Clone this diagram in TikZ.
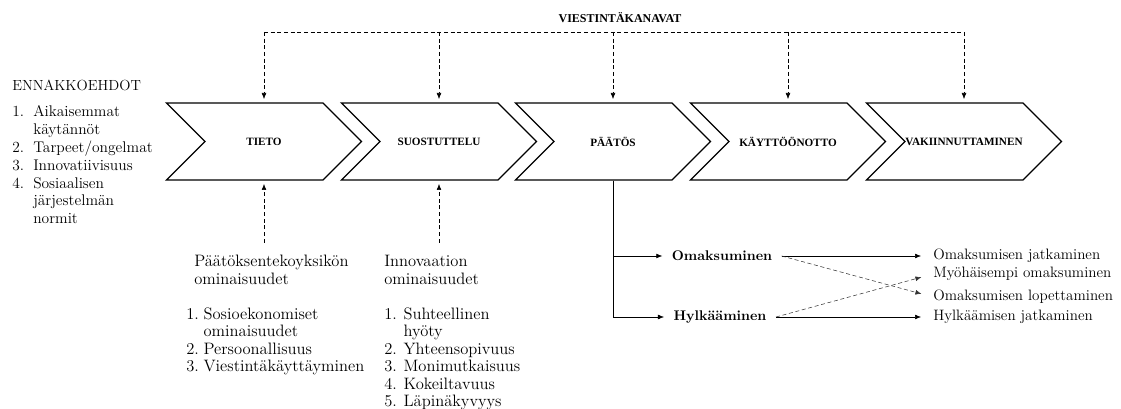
\documentclass[tikz,border=0pt]{standalone}
\usepackage{fontspec}
\newfontfamily\capsfont{Liberation Serif}
\usetikzlibrary{shapes.symbols, arrows.meta, positioning}

\tikzset{
    chev/.style={signal, signal from=west, signal to=east, signal pointer angle=90,
        draw, line width=1pt, minimum width=146.25pt, minimum height=57.75pt,
        inner sep=0pt, font=\capsfont\bfseries\fontsize{8.4}{9}\selectfont},
    tip/.style={-{Latex[length=4.5pt, width=3.6pt]}},
    chan/.style={tip, dashed, dash pattern=on 3pt off 2pt},
    flow/.style={tip},
    listtext/.style={inner sep=0pt, anchor=base west, font=\fontsize{11.6}{13.35}\selectfont},
    choice/.style={inner xsep=7pt, inner ysep=0pt, font=\fontsize{10.5}{12}\selectfont\bfseries},
    outcome/.style={inner sep=0pt, anchor=west, text height=8pt, text depth=2.5pt,
        font=\fontsize{11.3}{13}\selectfont}
}

\begin{document}
\begin{tikzpicture}[x=0.75pt, y=-0.75pt]
    \useasboundingbox (0,0) rectangle (1121,409);

    % Five stages as chevrons
    \foreach \name/\x/\stage in {tieto/264/TIETO, suost/439/SUOSTUTTELU, paatos/613/PÄÄTÖS,
        kaytto/788/KÄYTTÖÖNOTTO, vakiin/964/VAKIINNUTTAMINEN}
    {
        \node[chev] (\name) at (\x,141.5) {\stage};
    }

    % Communication channels on top
    \node[font=\capsfont\bfseries\fontsize{9}{10}\selectfont] (kanavat) at (620,18) {VIESTINTÄKANAVAT};
    \coordinate (bus) at (620,32);
    \draw[dashed, dash pattern=on 3pt off 2pt] (tieto.north |- bus) -- (vakiin.north |- bus);
    \foreach \name in {tieto, suost, paatos, kaytto, vakiin}
    {
        \draw[chan, shorten >=2.5pt] (\name.north |- bus) -- (\name.north);
    }

    % Prior conditions
    \node[listtext, font=\fontsize{11}{12}\selectfont] (ennak) at (12,91) {ENNAKKOEHDOT};
    \node[listtext] (ennaklist) at (12,117) {\begin{tabular}[t]{@{}p{15.75pt}@{}l@{}}
        1. & Aikaisemmat\\
           & käytännöt\\
        2. & Tarpeet/ongelmat\\
        3. & Innovatiivisuus\\
        4. & Sosiaalisen\\
           & järjestelmän\\
           & normit
    \end{tabular}};

    % Characteristics of the decision-making unit
    \node[listtext, font=\fontsize{12.4}{13.1}\selectfont] (unit) at (186,267) {\begin{tabular}[t]{@{}p{13pt}@{}l@{}}
        \multicolumn{2}{@{\hspace{6pt}}l@{}}{Päätöksentekoyksikön}\\
        \multicolumn{2}{@{\hspace{6pt}}l@{}}{ominaisuudet}\\
           & \\
        1. & Sosioekonomiset\\
           & ominaisuudet\\
        2. & Persoonallisuus\\
        3. & Viestintäkäyttäyminen
    \end{tabular}};

    % Characteristics of the innovation
    \node[listtext, font=\fontsize{12.4}{13.1}\selectfont] (innov) at (384,267) {\begin{tabular}[t]{@{}p{14.5pt}@{}l@{}}
        \multicolumn{2}{@{}l@{}}{Innovaation}\\
        \multicolumn{2}{@{}l@{}}{ominaisuudet}\\
           & \\
        1. & Suhteellinen\\
           & hyöty\\
        2. & Yhteensopivuus\\
        3. & Monimutkaisuus\\
        4. & Kokeiltavuus\\
        5. & Läpinäkyvyys
    \end{tabular}};

    \draw[chan, shorten <=9pt, shorten >=2.5pt] (tieto.south |- unit.north) -- (tieto.south);
    \draw[chan, shorten <=9pt, shorten >=2.5pt] (suost.south |- innov.north) -- (suost.south);

    % Decision: adoption or rejection
    \node[choice] (omak) at (722,256) {Omaksuminen};
    \node[choice] (hylk) at (720,317) {Hylkääminen};
    \draw[flow] (paatos.south) |- (omak);
    \draw[flow] (paatos.south) |- (hylk);

    % Outcomes
    \node[outcome] (ojat) at (933,256) {Omaksumisen jatkaminen};
    \node[outcome] (myoh) at (933,274) {Myöhäisempi omaksuminen};
    \node[outcome] (olop) at (933,297) {Omaksumisen lopettaminen};
    \node[outcome] (hjat) at (933,317) {Hylkäämisen jatkaminen};

    \draw[flow, shorten >=9pt] (omak.east) -- (ojat.west);
    \draw[chan, black!80, shorten >=9pt] (omak.east) -- (olop.west);
    \draw[chan, black!80, shorten >=9pt] (hylk.east) -- (myoh.west);
    \draw[flow, shorten >=9pt] (hylk.east) -- (hjat.west);

\end{tikzpicture}
\end{document}
